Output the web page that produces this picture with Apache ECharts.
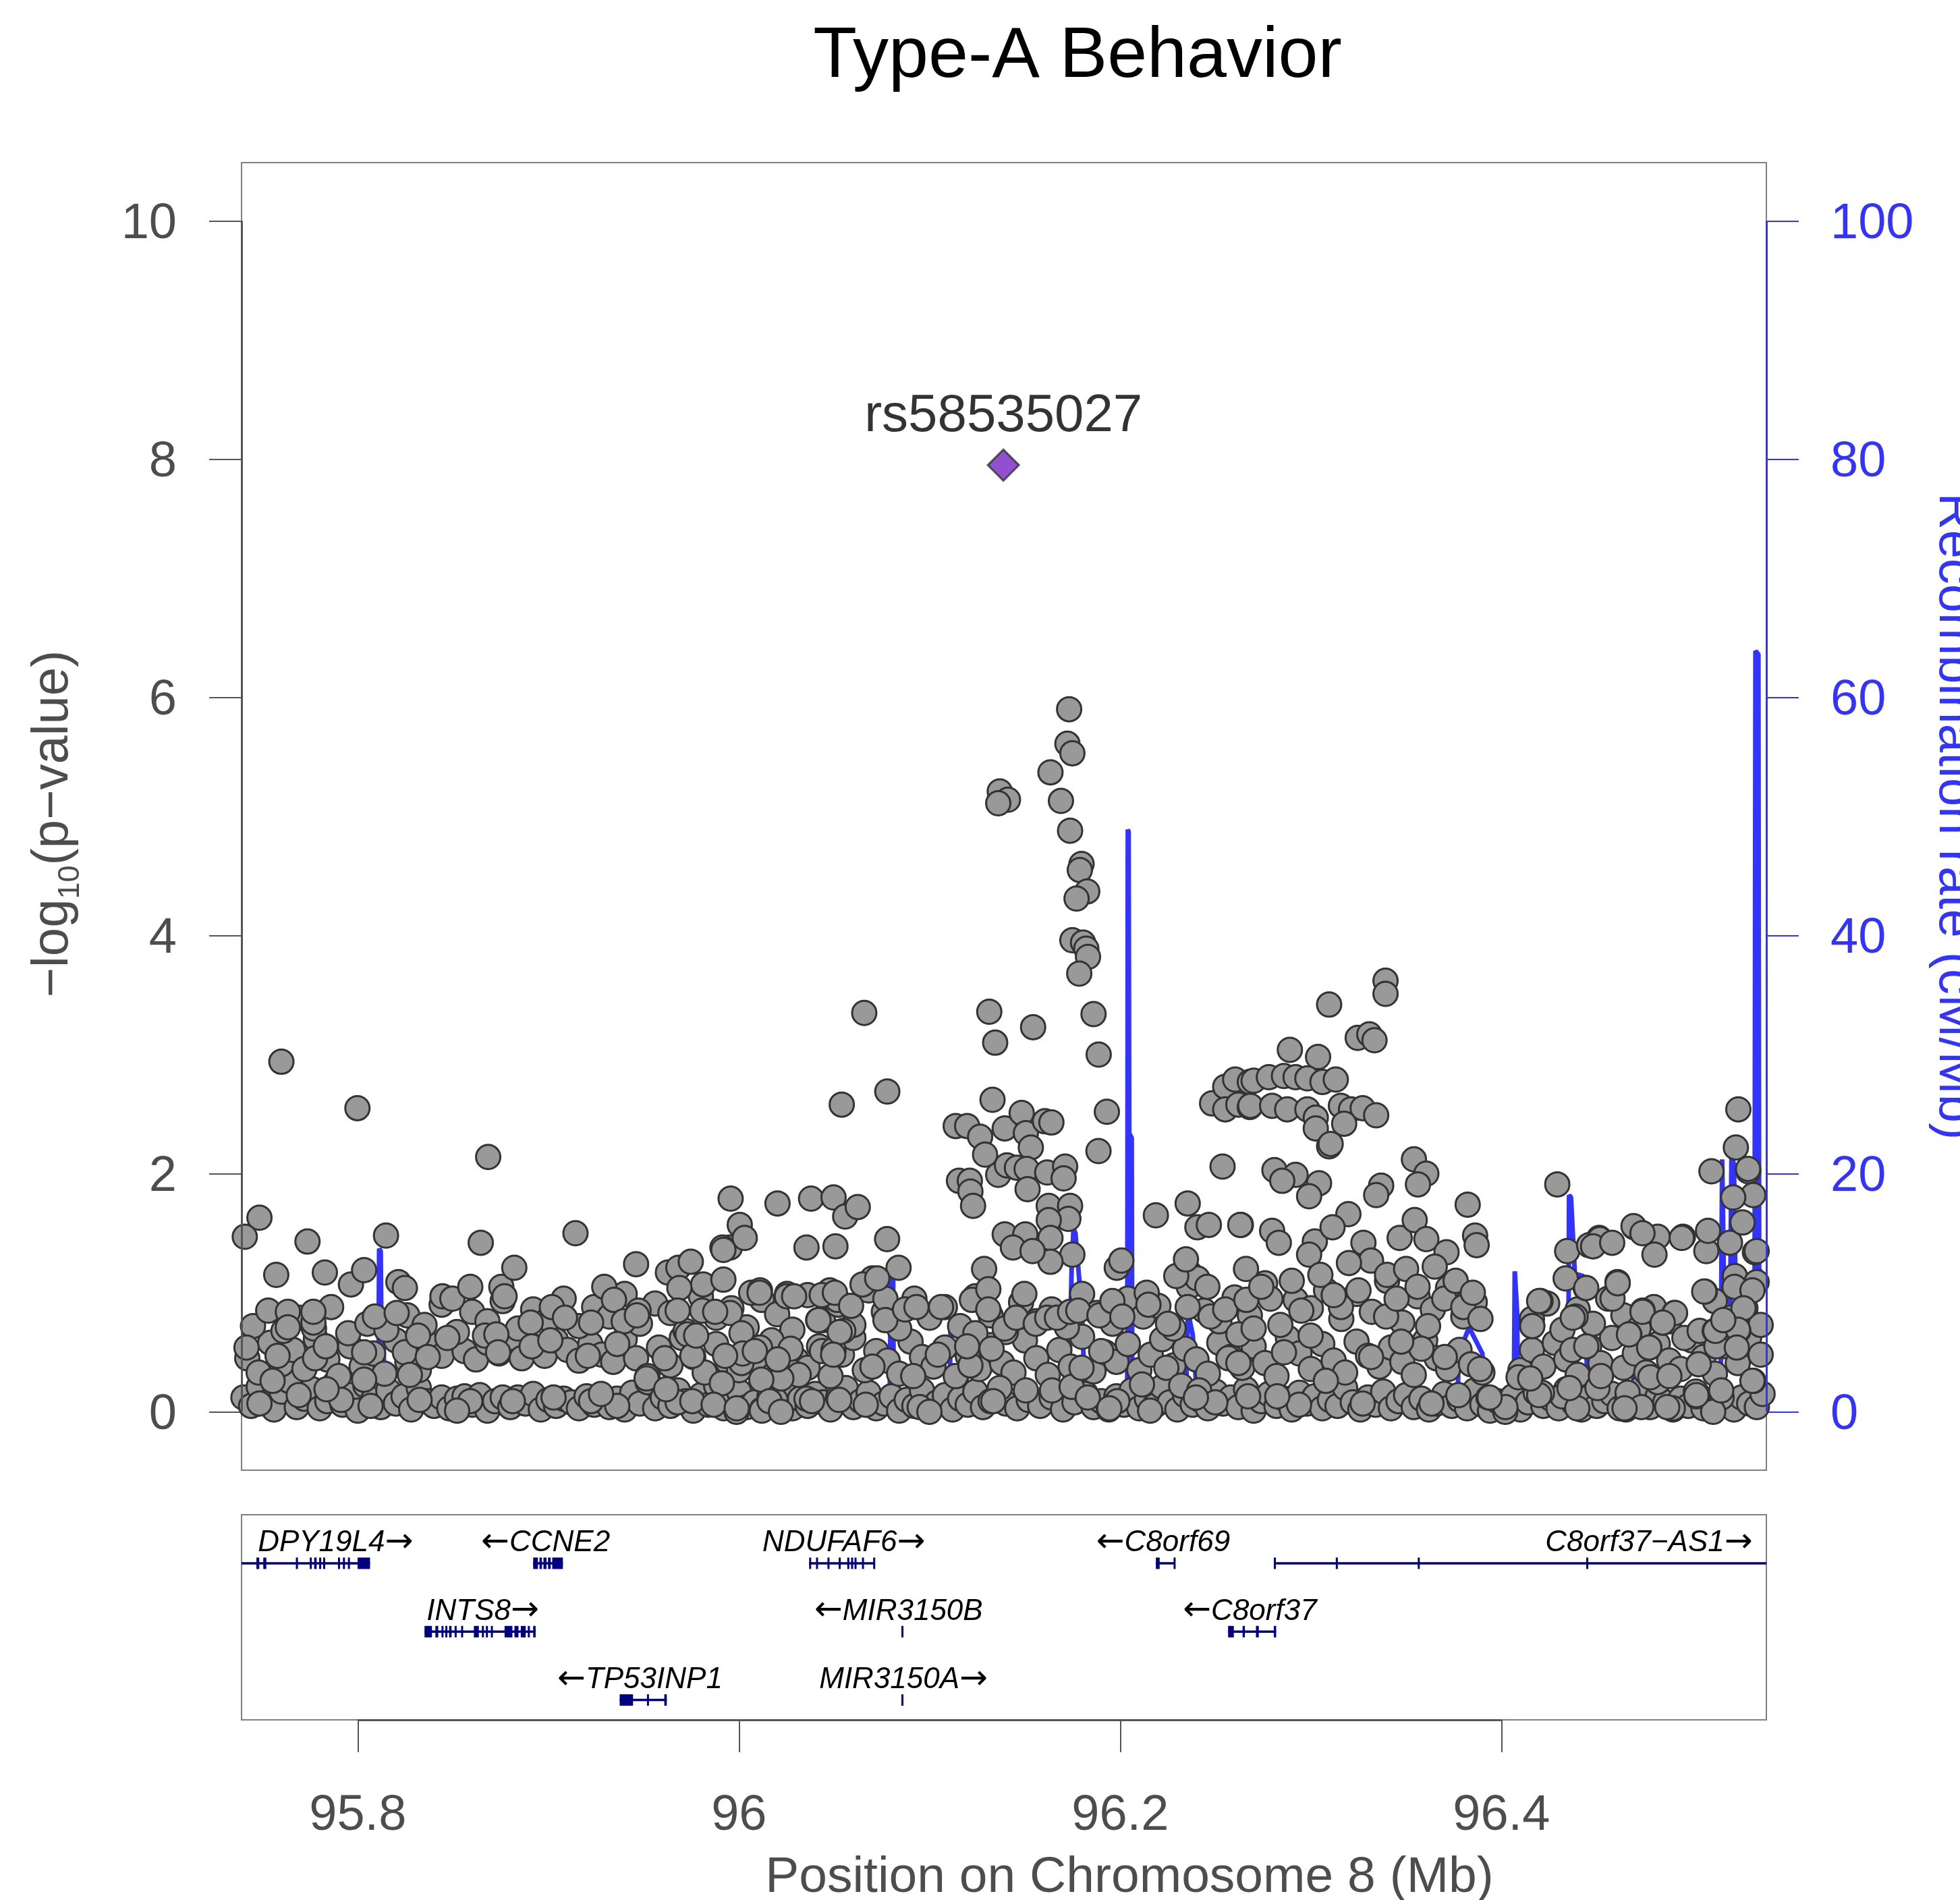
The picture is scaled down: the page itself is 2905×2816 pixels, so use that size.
<!DOCTYPE html>
<html>
<head>
<meta charset="utf-8">
<title>Type-A Behavior</title>
<script src="https://cdn.jsdelivr.net/npm/echarts@6/dist/echarts.min.js"></script>
<style>
html, body { margin: 0; padding: 0; background: #fff; }
#locus { width: 2905px; height: 2816px; }
</style>
</head>
<body>
<div id="locus"></div>
<script>
/* axes */
var xMin = 95.739, xMax = 96.539;
var xTicks = [95.8, 96, 96.2, 96.4];
var pTicks = [0, 2, 4, 6, 8, 10];
var recTicks = [0, 20, 40, 60, 80, 100];

/* lead snp */
var leadName = 'rs58535027';
var leadSnp = [96.1387, 7.95];

/* snps: [position Mb, -log10 p] */
var snpLeft = [
  [95.7599,2.94],[95.7998,2.55],[95.8684,2.14],[95.7484,1.63],[95.7407,1.47],[95.7736,1.43],[95.8148,1.48],[95.8645,1.42],
  [95.9142,1.50],[95.9956,1.79],[96.0004,1.57],[95.9952,1.38],[96.0030,1.46],[95.9913,1.38],[95.7572,1.15],[95.7827,1.17],
  [95.7964,1.07],[95.8033,1.19],[95.8213,1.09],[95.8247,1.04],[95.8444,0.97],[95.8496,0.95],[95.8590,1.05],[95.8753,1.05],
  [95.8821,1.21],[95.8770,0.97],[95.9460,1.24],[95.9627,1.17],[95.9682,1.21],[95.9747,1.26],[95.9812,1.07],[95.9918,1.11],
  [95.9687,1.04],[96.0064,1.00],[95.9953,0.83],[95.7633,0.84],[95.7767,0.75],[95.7633,0.71],[95.7767,0.84],[95.8090,0.80],
  [95.8204,0.83],[95.7416,0.54],[95.7579,0.47],[95.7776,0.45],[95.7832,0.55],[95.7553,0.26],[95.8033,0.50],[95.8247,0.50],
  [95.8316,0.64],[95.8470,0.62],[95.8667,0.64],[95.8727,0.65],[95.8907,0.75],[95.9018,0.88],[95.9087,0.79],[95.9224,0.75],
  [95.9293,1.05],[95.9344,0.94],[95.9395,0.76],[95.9473,0.85],[95.9207,0.47],[95.9361,0.57],[95.9464,0.81],[95.9678,0.85],
  [95.9730,0.65],[95.9807,0.85],[95.9875,0.84],[95.9755,0.47],[96.0013,0.66],[96.0013,0.41],[95.8912,0.55],[95.9010,0.60],
  [95.8736,0.50],[95.8367,0.46],[95.9515,0.28],[95.9610,0.45],[95.9910,0.24],[95.9678,0.08],[95.8590,0.09],[95.8324,0.10],
  [95.7484,0.07],[95.7690,0.14],[95.7913,0.10],[95.8067,0.05],[95.8813,0.09],[95.9027,0.12],[95.9361,0.05],[95.9755,0.09],
  [95.9987,0.00],[95.9867,0.06],[95.9224,0.09],[95.8521,0.01],[95.7836,0.19],[95.8033,0.27],[95.8273,0.31],[95.9276,0.15],
  [95.9618,0.19],[96.0202,1.75],[96.0378,1.79],[96.0496,1.80],[96.0557,1.64],[96.0354,1.38],[96.0506,1.39],[95.9918,1.36],
  [96.0110,1.02],[96.0252,0.99],[96.0476,1.02],[96.0415,0.77],[96.0516,0.94],[96.0547,0.68],[96.0273,0.34],[96.0313,0.31],
  [96.0435,0.51],[96.0496,0.52],[96.0171,0.60],[96.0110,0.54],[96.0019,0.49],[96.0191,0.10],[96.0354,0.11],[95.9988,0.03],
  [96.0120,0.01],[96.0526,0.10],[96.0222,0.28],[95.9927,0.47],[95.9775,0.64]
];

var snpPeak = [
  [96.1732,5.90],[96.1723,5.61],[96.1749,5.53],[96.1634,5.37],[96.1368,5.21],[96.1411,5.14],[96.1360,5.11],[96.1689,5.13],
  [96.1737,4.88],[96.1797,4.60],[96.1788,4.55],[96.1827,4.37],[96.1771,4.31],[96.1749,3.96],[96.1805,3.94],[96.1822,3.89],
  [96.1831,3.82],[96.1785,3.68],[96.0657,3.35],[96.1313,3.36],[96.1860,3.34],[96.1344,3.10],[96.1543,3.23],[96.1887,3.00],
  [96.0539,2.58],[96.0778,2.69],[96.1330,2.62],[96.1930,2.52],[96.1137,2.40],[96.1197,2.40],[96.1265,2.31],[96.1394,2.38],
  [96.1483,2.51],[96.1505,2.34],[96.1605,2.44],[96.1639,2.43],[96.1291,2.16],[96.1531,2.22],[96.1886,2.19],[96.1154,1.94],
  [96.1211,1.94],[96.1214,1.85],[96.1228,1.73],[96.1360,1.99],[96.1406,2.07],[96.1458,2.05],[96.1509,2.04],[96.1514,1.87],
  [96.1617,2.01],[96.1711,2.06],[96.1703,1.96],[96.1625,1.73],[96.1737,1.73],[96.1728,1.62],[96.1625,1.61],[96.1394,1.49],
  [96.1502,1.49],[96.1437,1.38],[96.1634,1.46],[96.1749,1.32],[96.1634,1.26],[96.1540,1.35],[96.1286,1.20],[96.1982,1.21],
  [96.2006,1.27],[96.2187,1.65],[96.2354,1.75],[96.2537,2.06],[96.2482,2.59],[96.2551,2.73],[96.2603,2.79],[96.2680,2.77],
  [96.2551,2.54],[96.2620,2.58],[96.2680,2.56],[96.2405,1.55],[96.2465,1.57],[96.2633,1.57],[96.2362,1.17],[96.2405,1.12],
  [96.2294,1.14],[96.2345,1.28],[96.2457,1.05],
  [96.0108,1.00],[96.0623,1.72],[96.0777,1.45],[96.0837,1.21],[96.0700,1.12],[96.0251,0.97],[96.0289,0.97],[96.0434,0.98],
  [96.0503,1.00],[96.0588,0.89],[96.0768,0.95],[96.0648,1.07],[96.0725,1.12],[96.0417,0.77],[96.0528,0.67],[96.0768,0.77],
  [96.0871,0.86],[96.0931,0.88],[96.1060,0.88],[96.1222,0.94],[96.1308,1.03],[96.1308,0.86],[96.1240,0.66],[96.1325,0.53],
  [96.1394,0.70],[96.1454,0.79],[96.1497,0.99],[96.1557,0.74],[96.1617,0.79],[96.1668,0.79],[96.1737,0.84],[96.1780,0.85],
  [96.1891,0.81],[96.1959,0.93],[96.2011,0.80],[96.2139,1.00],[96.2148,0.90],[96.2251,0.74],[96.2354,0.88],[96.2474,0.80],
  [96.2551,0.86],[96.2620,0.65],[96.2662,0.94],[96.0271,0.53],[96.0203,0.44],[96.0083,0.51],[96.0117,0.27],[96.0494,0.48],
  [96.0700,0.38],[96.0914,0.30],[96.1043,0.48],[96.1137,0.30],[96.1214,0.39],[96.1197,0.55],[96.1368,0.20],[96.1505,0.18],
  [96.1642,0.18],[96.1745,0.21],[96.1797,0.37],[96.1900,0.51],[96.1830,0.12],[96.1985,0.09],[96.2114,0.23],[96.2242,0.37],
  [96.2320,0.22],[96.2414,0.18],[96.2499,0.08],[96.2568,0.45],[96.2620,0.41],[96.2671,0.13],[96.0160,0.09],[96.0220,0.00],
  [96.0383,0.09],[96.0665,0.06],[96.0948,0.04],[96.0999,0.00],[96.1334,0.09],[96.1943,0.03],[96.2157,0.01],[96.2397,0.12]
];

var snpRight = [
  [96.3392,3.62],[96.3392,3.51],[96.3096,3.42],[96.3246,3.14],[96.3307,3.17],[96.3334,3.12],[96.2890,3.04],[96.3038,2.98],
  [96.2700,2.78],[96.2780,2.81],[96.2859,2.82],[96.2920,2.81],[96.2982,2.80],[96.3061,2.77],[96.3131,2.79],[96.2683,2.57],
  [96.2797,2.57],[96.2876,2.54],[96.2982,2.54],[96.3026,2.47],[96.3158,2.57],[96.3211,2.54],[96.3272,2.55],[96.3343,2.49],
  [96.3026,2.38],[96.3175,2.42],[96.3096,2.23],[96.3104,2.25],[96.3541,2.12],[96.3606,2.00],[96.3562,1.91],[96.2809,2.03],
  [96.2920,1.99],[96.3043,1.92],[96.2991,1.81],[96.2850,1.94],[96.3369,1.90],[96.3343,1.82],[96.3823,1.74],[96.3197,1.66],
  [96.2630,1.57],[96.2797,1.52],[96.2832,1.42],[96.3021,1.43],[96.2991,1.32],[96.3114,1.55],[96.3276,1.42],[96.3316,1.27],
  [96.3466,1.46],[96.3545,1.61],[96.3606,1.45],[96.3712,1.34],[96.3862,1.48],[96.3870,1.40],[96.4293,1.91],[96.4345,1.35],
  [96.4513,1.46],[96.4460,1.40],[96.4697,1.55],[96.4820,1.47],[96.4803,1.32],[96.4952,1.47],[96.5075,1.35],[96.5084,1.52],
  [96.5199,1.42],[96.5265,1.59],[96.5243,2.54],[96.5230,2.22],[96.5102,2.02],[96.5295,2.02],[96.5321,1.82],[96.5216,1.80],
  [96.5330,1.34],[96.5067,1.01],[96.4908,0.83],[96.4847,0.75],[96.4741,0.85],[96.4609,1.09],[96.4671,0.65],[96.4776,0.54],
  [96.4583,0.95],[96.4442,1.04],[96.4389,0.80],[96.4337,1.12],[96.4205,0.93],[96.4161,0.72],[96.4372,0.52],[96.4504,0.20],
  [96.4662,0.16],[96.4819,0.25],[96.5023,0.13],[96.5155,0.12],[96.5119,0.68],[96.5243,0.68],[96.5128,0.55],[96.5322,0.26],
  [96.5225,1.14],[96.5339,1.09],[96.5111,0.00],[96.4899,0.03],[96.4653,0.02],[96.4319,0.13],[96.4213,0.16],[96.4090,0.29],
  [96.4020,0.00],[96.3932,0.12],[96.3888,0.36],[96.3774,0.14],[96.3633,0.07],[96.3703,0.46],[96.3615,0.72],[96.3580,0.53],
  [96.3474,0.59],[96.3395,0.80],[96.3316,0.46],[96.3272,0.07],[96.3158,0.88],[96.3079,0.26],[96.2999,0.64],[96.2859,0.50],
  [96.2788,0.95],[96.2700,0.70],[96.2938,0.06],[96.2824,0.13],
  [96.2660,1.20],[96.2740,1.05],[96.2900,1.10],[96.2950,0.85],[96.3050,1.15],[96.3120,0.98],[96.3200,1.25],[96.3250,1.02],
  [96.3400,1.15],[96.3450,0.95],[96.3500,1.20],[96.3560,1.05],[96.3650,1.22],[96.3700,0.95],[96.3760,1.10],[96.3800,0.88],
  [96.3850,1.00],[96.3890,0.78],
  [96.5294,2.04],[96.4516,1.45],[96.4481,1.39],[96.4581,1.42],[96.4693,1.56],[96.4740,1.50],[96.4946,1.46],[96.5339,1.35],
  [96.4445,1.04],[96.4610,1.08],[96.4198,0.93],[96.4162,0.72],[96.4374,0.79],[96.4740,0.84],[96.4911,0.83],[96.4846,0.75],
  [96.4669,0.65],[96.4775,0.54],[96.5064,1.01],[96.5223,1.05],[96.5317,1.02],[96.5270,0.87],[96.5123,0.68],[96.5241,0.69],
  [96.5235,0.54],[96.5317,0.26],[96.5035,0.40],[96.5153,0.18],[96.5023,0.14],[96.4870,0.04],[96.4734,0.04],[96.4646,0.03],
  [96.4398,0.03],[96.4198,0.14],[96.4021,0.04],[96.3938,0.12],[96.4522,0.30],[96.4781,0.29],[96.4881,0.30],[96.4357,0.20],
  [96.4151,0.28],[96.4445,0.55],[96.5164,0.77]
];

/* the crowded layers near zero */
var snpFloor = [
  [95.740,0.12],[95.744,0.05],[95.748,0.21],[95.752,0.08],[95.756,0.02],[95.760,0.17],[95.764,0.26],[95.768,0.04],[95.772,0.11],
  [95.776,0.19],[95.780,0.03],[95.784,0.09],[95.788,0.24],[95.792,0.06],[95.796,0.14],[95.800,0.01],[95.804,0.22],[95.808,0.10],
  [95.812,0.04],[95.816,0.18],[95.820,0.07],[95.824,0.13],[95.828,0.02],[95.832,0.20],[95.836,0.09],[95.840,0.05],[95.844,0.12],
  [95.848,0.03],[95.852,0.11],[95.856,0.13],[95.860,0.06],[95.864,0.14],[95.868,0.01],[95.872,0.09],[95.876,0.12],[95.880,0.04],
  [95.884,0.12],[95.888,0.07],[95.892,0.15],[95.896,0.02],[95.900,0.10],[95.904,0.05],[95.908,0.11],[95.912,0.08],[95.916,0.03],
  [95.920,0.13],[95.924,0.06],[95.928,0.10],[95.932,0.04],[95.936,0.11],[95.940,0.02],[95.944,0.16],[95.948,0.07],[95.952,0.25],
  [95.956,0.03],[95.960,0.12],[95.964,0.05],[95.968,0.18],[95.972,0.09],[95.976,0.01],[95.980,0.14],[95.984,0.06],[95.988,0.22],
  [95.992,0.03],[95.996,0.10],[96.000,0.17],[96.004,0.04],[96.008,0.08],[96.012,0.02],[96.016,0.13],[96.020,0.06],[96.024,0.19],
  [96.028,0.03],[96.032,0.11],[96.036,0.05],[96.040,0.15],[96.044,0.08],[96.048,0.02],[96.052,0.12],[96.056,0.20],[96.060,0.04],
  [96.064,0.09],[96.068,0.16],[96.072,0.03],[96.076,0.07],[96.080,0.13],[96.084,0.01],[96.088,0.10],[96.092,0.05],[96.096,0.18],
  [96.100,0.03],[96.104,0.08],[96.108,0.14],[96.112,0.02],[96.116,0.11],[96.120,0.06],[96.124,0.17],[96.128,0.04],[96.132,0.09],
  [96.136,0.13],[96.140,0.07],[96.146,0.03],[96.152,0.10],[96.158,0.05],[96.164,0.12],[96.170,0.02],[96.176,0.08],[96.182,0.15],
  [96.186,0.04],[96.190,0.09],[96.194,0.02],[96.198,0.13],[96.202,0.06],[96.206,0.18],[96.210,0.03],[96.214,0.11],[96.218,0.05],
  [96.222,0.21],[96.226,0.08],[96.230,0.02],[96.234,0.14],[96.238,0.06],[96.242,0.10],[96.246,0.03],[96.250,0.17],[96.254,0.07],
  [96.258,0.12],[96.262,0.04],[96.266,0.19],[96.270,0.01],[96.274,0.09],[96.278,0.15],[96.282,0.05],[96.286,0.11],[96.290,0.02],
  [96.294,0.16],[96.298,0.07],[96.302,0.13],[96.306,0.03],[96.310,0.10],[96.314,0.05],[96.318,0.20],[96.322,0.08],[96.326,0.02],
  [96.330,0.12],[96.334,0.06],[96.338,0.17],[96.342,0.03],[96.346,0.09],[96.350,0.14],[96.354,0.04],[96.358,0.11],[96.362,0.02],
  [96.366,0.07],[96.370,0.15],[96.374,0.05],[96.378,0.10],[96.382,0.03],[96.386,0.18],[96.390,0.06],[96.394,0.01],[96.398,0.09],
  [96.402,0.04],[96.406,0.13],[96.410,0.02],[96.414,0.08],[96.418,0.16],[96.422,0.05],[96.426,0.11],[96.430,0.03],[96.434,0.19],
  [96.438,0.07],[96.442,0.02],[96.446,0.12],[96.450,0.05],[96.454,0.09],[96.458,0.15],[96.462,0.03],[96.466,0.10],[96.470,0.06],
  [96.474,0.21],[96.478,0.04],[96.482,0.13],[96.486,0.08],[96.490,0.02],[96.494,0.11],[96.498,0.05],[96.502,0.17],[96.506,0.03],
  [96.510,0.09],[96.514,0.14],[96.518,0.06],[96.522,0.02],[96.526,0.12],[96.530,0.07],[96.534,0.04],[96.537,0.15]
];

var snpBand = [
  [95.742,0.45],[95.748,0.33],[95.754,0.58],[95.760,0.40],[95.766,0.52],[95.772,0.36],[95.778,0.61],[95.784,0.44],[95.790,0.30],
  [95.796,0.55],[95.802,0.38],[95.808,0.49],[95.814,0.32],[95.820,0.60],[95.826,0.42],[95.832,0.35],[95.838,0.56],[95.844,0.47],
  [95.850,0.63],[95.856,0.51],[95.862,0.44],[95.868,0.58],[95.874,0.49],[95.880,0.62],[95.886,0.45],[95.892,0.55],[95.898,0.47],
  [95.904,0.60],[95.910,0.52],[95.916,0.43],[95.922,0.57],[95.928,0.48],[95.934,0.42],[95.940,0.61],[95.946,0.45],[95.952,0.30],
  [95.958,0.54],[95.964,0.39],[95.970,0.62],[95.976,0.46],[95.982,0.33],[95.988,0.57],[95.994,0.42],[96.000,0.35],[96.006,0.53],
  [96.012,0.40],[96.018,0.31],[96.024,0.58],[96.030,0.44],[96.036,0.37],[96.042,0.55],[96.048,0.30],[96.054,0.48],[96.060,0.62],
  [96.066,0.35],[96.072,0.51],[96.078,0.43],[96.084,0.32],[96.090,0.59],[96.096,0.46],[96.102,0.38],[96.108,0.54],[96.114,0.30],
  [96.120,0.47],[96.126,0.36],[96.132,0.56],[96.138,0.41],[96.144,0.33],[96.150,0.60],[96.156,0.45],[96.162,0.31],[96.168,0.52],
  [96.174,0.38],[96.180,0.63],[96.186,0.34],[96.192,0.50],[96.198,0.42],[96.204,0.57],[96.210,0.35],[96.216,0.48],[96.222,0.61],
  [96.228,0.39],[96.234,0.53],[96.240,0.44],[96.246,0.32],[96.252,0.58],[96.258,0.46],[96.264,0.37],[96.270,0.55],[96.276,0.41],
  [96.282,0.30],[96.288,0.62],[96.294,0.49],[96.300,0.36],[96.306,0.57],[96.312,0.43],[96.318,0.33],[96.324,0.59],[96.330,0.47],
  [96.336,0.38],[96.342,0.54],[96.348,0.42],[96.354,0.31],[96.360,0.60],[96.366,0.45],[96.372,0.36],[96.378,0.52],[96.384,0.40],
  [96.390,0.33],[96.410,0.35],[96.416,0.52],[96.422,0.38],[96.428,0.58],[96.434,0.44],[96.440,0.31],[96.446,0.55],[96.452,0.41],
  [96.458,0.62],[96.464,0.37],[96.470,0.49],[96.476,0.33],[96.482,0.57],[96.488,0.43],[96.494,0.36],[96.500,0.60],[96.506,0.46],
  [96.512,0.32],[96.518,0.55],[96.524,0.41],[96.530,0.63],[96.536,0.48],
  [95.745,0.72],[95.753,0.85],[95.761,0.68],[95.769,0.79],[95.777,0.70],[95.786,0.88],[95.795,0.66],[95.805,0.74],[95.815,0.69],
  [95.826,0.81],[95.835,0.73],[95.844,0.90],[95.852,0.67],[95.860,0.84],[95.868,0.76],[95.876,0.93],[95.884,0.70],[95.892,0.86],
  [95.900,0.78],[95.908,0.95],[95.916,0.72],[95.924,0.88],[95.932,0.80],[95.940,0.99],[95.948,0.74],[95.956,0.91],[95.964,0.83],
  [95.972,0.68],[95.980,0.97],[95.988,0.79],[95.996,0.87],[96.004,0.71],[96.012,0.94],[96.020,0.82],[96.028,0.69],[96.036,0.98],
  [96.044,0.77],[96.052,0.90],[96.060,0.73],[96.068,1.02],[96.076,0.84],[96.084,0.70],[96.092,0.95],[96.100,0.79],[96.108,0.88],
  [96.116,0.72],[96.124,0.97],[96.132,0.81],[96.140,0.67],[96.148,0.92],[96.156,0.76],[96.164,0.86],[96.172,0.71],[96.180,0.99],
  [96.188,0.83],[96.196,0.74],[96.204,0.95],[96.212,0.80],[96.220,0.89],[96.228,0.70],[96.236,1.05],[96.244,0.85],[96.252,0.76],
  [96.260,0.96],[96.268,0.81],[96.276,1.08],[96.284,0.73],[96.292,0.94],[96.300,0.87],[96.308,1.02],[96.316,0.78],[96.324,0.99],
  [96.332,0.84],[96.340,1.10],[96.348,0.75],[96.356,0.97],[96.364,0.86],[96.372,1.04],[96.380,0.80],[96.386,0.92],[96.416,0.78],
  [96.424,0.91],[96.432,0.69],[96.440,0.86],[96.448,0.74],[96.456,0.95],[96.464,0.81],[96.472,0.70],[96.480,0.88],[96.488,0.76],
  [96.496,0.62],[96.504,0.68],[96.512,0.93],[96.520,0.79],[96.528,0.87],[96.536,0.73]
];

/* recombination rate: [position Mb, cM/Mb] */
var recomb = [
  [95.739,0.8],[95.750,1.2],[95.762,0.6],[95.775,1.5],[95.790,0.9],[95.805,1.1],[95.8108,1.4],[95.8112,13.7],[95.8120,13.5],
  [95.8124,6.3],[95.8135,6.0],[95.8140,0.8],[95.830,0.5],[95.850,0.7],[95.870,0.4],[95.890,0.6],[95.910,0.3],[95.930,0.5],
  [95.950,0.4],[95.970,0.3],[95.990,0.2],[96.010,0.2],[96.030,0.15],[96.046,0.2],[96.0475,1.6],[96.0490,1.7],[96.0495,0.2],
  [96.079,0.2],[96.0798,12.8],[96.0808,12.6],[96.0812,0.3],[96.1105,0.3],[96.1110,7.5],[96.1178,7.2],[96.1185,0.2],[96.140,0.15],
  [96.173,0.2],[96.1745,12.0],[96.1755,15.4],[96.1765,15.0],[96.1800,8.2],[96.1815,1.0],[96.190,0.6],[96.2037,0.8],[96.2040,48.9],
  [96.2044,48.7],[96.2047,23.4],[96.2060,23.0],[96.2063,1.0],[96.215,0.5],[96.228,0.8],[96.2345,1.2],[96.2355,8.4],[96.2380,6.5],
  [96.2400,2.0],[96.2420,0.4],[96.260,0.6],[96.280,0.9],[96.300,0.5],[96.316,0.4],[96.330,0.4],[96.3350,1.0],[96.3420,1.0],
  [96.3440,1.3],[96.3460,0.6],[96.3620,0.6],[96.3680,0.3],[96.3770,0.3],[96.3775,4.8],[96.3830,7.1],[96.3900,4.9],[96.3915,0.3],
  [96.4065,0.3],[96.4070,11.8],[96.4082,8.4],[96.4088,0.4],[96.4200,0.3],[96.4350,0.4],[96.4355,18.2],[96.4365,18.0],[96.4385,11.6],
  [96.4430,11.4],[96.4445,5.0],[96.4460,0.5],[96.4600,0.4],[96.4690,0.4],[96.4695,5.3],[96.4710,5.0],[96.4715,0.4],[96.4900,0.3],
  [96.5150,0.4],[96.5158,21.2],[96.5170,8.0],[96.5200,8.5],[96.5207,21.4],[96.5220,20.8],[96.5232,5.0],[96.5328,5.0],[96.5333,63.9],
  [96.5348,63.6],[96.5352,12.0],[96.539,11.0]
];

/* genes */
var geneNames  = ['DPY19L4', 'CCNE2', 'NDUFAF6', 'C8orf69', 'C8orf37\u2212AS1', 'INTS8', 'MIR3150B', 'C8orf37', 'TP53INP1', 'MIR3150A'];
var geneStart  = [95.705, 95.8920, 96.0368, 96.2187, 96.2806, 95.8350, 96.0852, 96.2566, 95.9374, 96.0852];
var geneEnd    = [95.8064, 95.9076, 96.0710, 96.2288, 96.5600, 95.8933, 96.0854, 96.2818, 95.9621, 96.0854];
var geneRow    = [1, 1, 1, 1, 1, 2, 2, 2, 3, 3];
var geneStrand = ['+', '-', '+', '-', '+', '+', '-', '-', '-', '+'];
var geneLabelX = [95.7883, 95.8985, 96.0550, 96.2225, 96.4774, 95.8656, 96.0837, 96.2680, 95.9480, 96.0863];
var geneExons = [
  [[95.7468,95.7483],[95.7504,95.7520],[95.7675,95.7686],[95.7748,95.7758],[95.7771,95.7784],[95.7797,95.7808],[95.7818,95.7826],
   [95.7896,95.7906],[95.7922,95.7932],[95.7948,95.7958],[95.7999,95.8064]],
  [[95.8920,95.8945],[95.8953,95.8966],[95.8974,95.8990],[95.8998,95.9012],[95.9020,95.9076]],
  [[96.0368,96.0373],[96.0404,96.0409],[96.0464,96.0470],[96.0523,96.0528],[96.0568,96.0574],[96.0588,96.0594],[96.0606,96.0611],
   [96.0645,96.0650],[96.0704,96.0710]],
  [[96.2187,96.2207],[96.2280,96.2288]],
  [[96.2806,96.2811],[96.3131,96.3136],[96.3561,96.3566],[96.4445,96.4450]],
  [[95.8350,95.8389],[95.8407,95.8422],[95.8439,95.8444],[95.8459,95.8464],[95.8479,95.8492],[95.8508,95.8513],[95.8542,95.8547],
   [95.8609,95.8635],[95.8651,95.8656],[95.8672,95.8677],[95.8698,95.8703],[95.8770,95.8811],[95.8822,95.8843],[95.8855,95.8881],
   [95.8892,95.8897],[95.8920,95.8933]],
  [[96.0852,96.0854]],
  [[96.2566,96.2596],[96.2642,96.2654],[96.2712,96.2727],[96.2806,96.2818]],
  [[95.9374,95.9444],[95.9517,95.9527],[95.9608,95.9621]],
  [[96.0852,96.0854]]
];

var FONT = '"Liberation Sans", Arial, sans-serif';
var GREY = '#4d4d4d';
var BLUE = '#3333ff';

// gene name plus a strand arrow, the arrow set in an upright font so it reads like the R one
function geneLabel(i) {
  return geneStrand[i] === '+'
    ? '{n|' + geneNames[i] + '}{r|\u2192}'
    : '{r|\u2190}{n|' + geneNames[i] + '}';
}

function renderGene(params, api) {
  var i = params.dataIndex;
  var cs = params.coordSys;
  var a = api.coord([api.value(0), api.value(2)]);
  var b = api.coord([api.value(1), api.value(2)]);
  var y = a[1];
  var x0 = Math.max(a[0], cs.x), x1 = Math.min(b[0], cs.x + cs.width);
  var kids = [{
    type: 'line',
    shape: { x1: x0, y1: y, x2: x1, y2: y },
    style: { stroke: '#000080', lineWidth: 3.5 }
  }];
  geneExons[i].forEach(function (ex) {
    var ea = api.coord([ex[0], api.value(2)])[0];
    var eb = api.coord([ex[1], api.value(2)])[0];
    var w = Math.max(eb - ea, 3);
    kids.push({
      type: 'rect',
      shape: { x: ea, y: y - 8.5, width: w, height: 17 },
      style: { fill: '#000080' }
    });
  });
  kids.push({
    type: 'text',
    x: api.coord([geneLabelX[i], api.value(2)])[0],
    y: y - 5,
    style: {
      text: geneLabel(i),
      fill: '#000',
      textAlign: 'center', align: 'center',
      textVerticalAlign: 'bottom', verticalAlign: 'bottom',
      rich: {
        n: { fontSize: 44, fontStyle: 'italic', fontFamily: FONT, lineHeight: 50, verticalAlign: 'middle', fill: '#000', color: '#000' },
        r: { fontSize: 50, fontFamily: '"DejaVu Sans"', lineHeight: 50, verticalAlign: 'middle', fill: '#000', color: '#000' }
      }
    }
  });
  return { type: 'group', children: kids };
}

// tick labels sit a few pixels lower than ECharts centres them
function tickLabel(colour) {
  return {
    margin: 0, fontSize: 74, color: colour, fontFamily: FONT,
    formatter: '{v|{value}}',
    rich: { v: { fontSize: 74, fontFamily: FONT, color: colour, padding: [11, 0, 0, 0] } }
  };
}

// R draws each axis line only between its first and last tick
function axisSpan(from, to, colour) {
  return {
    silent: true, animation: false, symbol: ['none', 'none'],
    label: { show: false },
    lineStyle: { color: colour, width: 3, type: 'solid' },
    emphasis: { disabled: true },
    data: [[{ coord: from }, { coord: to }]]
  };
}

var chart = echarts.init(document.getElementById('locus'));

var leftLabel = tickLabel(GREY);
leftLabel.customValues = pTicks;
leftLabel.margin = 96;
var rightLabel = tickLabel(BLUE);
rightLabel.customValues = recTicks;
rightLabel.margin = 95;

var option = {
  animation: false,
  backgroundColor: '#fff',
  textStyle: { fontFamily: FONT },
  grid: [
    { left: 358, right: 287, top: 241, bottom: 637, show: true, borderColor: '#808080', borderWidth: 2 },
    { left: 358, right: 287, top: 2245, bottom: 267, show: true, borderColor: '#808080', borderWidth: 2 }
  ],
  xAxis: [
    { gridIndex: 0, type: 'value', min: xMin, max: xMax, show: false },
    {
      gridIndex: 1, type: 'value', min: xMin, max: xMax, position: 'bottom',
      axisLine: { show: true, lineStyle: { color: '#808080', width: 2 } },
      axisTick: { show: true, length: 48, customValues: xTicks, lineStyle: { color: '#555', width: 2 } },
      axisLabel: { customValues: xTicks, margin: 106, fontSize: 74, color: GREY, fontFamily: FONT },
      splitLine: { show: false }
    }
  ],
  yAxis: [
    {
      gridIndex: 0, type: 'value', position: 'left', min: -0.49, max: 10.49,
      axisLine: { show: false },
      axisTick: { show: true, length: 48, customValues: pTicks, lineStyle: { color: '#555', width: 2 } },
      axisLabel: leftLabel,
      splitLine: { show: false }
    },
    {
      gridIndex: 0, type: 'value', position: 'right', min: -4.9, max: 104.9,
      axisLine: { show: false },
      axisTick: { show: true, length: 48, customValues: recTicks, lineStyle: { color: BLUE, width: 2 } },
      axisLabel: rightLabel,
      splitLine: { show: false }
    },
    { gridIndex: 1, type: 'value', min: 0.29, max: 3.29, inverse: true, show: false }
  ],
  graphic: [
    {
      type: 'text', x: 1597, y: 85,
      style: { text: 'Type-A Behavior', font: '106px ' + FONT, fill: '#000',
               textAlign: 'center', align: 'center', textVerticalAlign: 'middle', verticalAlign: 'middle' }
    },
    {
      type: 'text', x: 1674, y: 2783,
      style: { text: 'Position on Chromosome 8 (Mb)', font: '75px ' + FONT, fill: GREY,
               textAlign: 'center', align: 'center', textVerticalAlign: 'middle', verticalAlign: 'middle' }
    },
    {
      type: 'text', x: 79, y: 1221, rotation: Math.PI / 2,
      style: {
        text: '{a|\u2212log}{s|10}{a|(p\u2212value)}',
        fill: GREY,
        textAlign: 'center', align: 'center', textVerticalAlign: 'middle', verticalAlign: 'middle',
        rich: {
          a: { fontSize: 76, lineHeight: 76, fontFamily: FONT, fill: GREY, color: GREY, verticalAlign: 'top' },
          s: { fontSize: 45, lineHeight: 45, fontFamily: FONT, fill: GREY, color: GREY, verticalAlign: 'top', padding: [41, 0, 0, 0] }
        }
      }
    },
    {
      type: 'text', x: 2896, y: 1210, rotation: -Math.PI / 2,
      style: { text: 'Recombination rate (cM/Mb)', font: '76px ' + FONT, fill: BLUE,
               textAlign: 'center', align: 'center', textVerticalAlign: 'middle', verticalAlign: 'middle' }
    }
  ],
  series: [
    {
      name: 'recomb', type: 'line', xAxisIndex: 0, yAxisIndex: 1,
      data: recomb, showSymbol: false, symbol: 'none', silent: true, z: 1,
      lineStyle: { color: BLUE, width: 7 },
      markLine: axisSpan([xMax, recTicks[0]], [xMax, recTicks[recTicks.length - 1]], BLUE)
    },
    {
      name: 'snps', type: 'scatter', xAxisIndex: 0, yAxisIndex: 0, z: 2,
      data: snpFloor.concat(snpBand, snpLeft, snpPeak, snpRight),
      symbol: 'circle', symbolSize: 36,
      itemStyle: { color: '#999999', borderColor: '#333333', borderWidth: 3, opacity: 1 },
      markLine: axisSpan([xMin, pTicks[0]], [xMin, pTicks[pTicks.length - 1]], '#555')
    },
    {
      name: 'lead', type: 'scatter', xAxisIndex: 0, yAxisIndex: 0, z: 3,
      data: [leadSnp], symbol: 'diamond', symbolSize: 46,
      itemStyle: { color: '#7424c4', borderColor: '#333333', borderWidth: 3 },
      label: { show: true, position: 'top', distance: 8, formatter: leadName,
               fontSize: 78, color: '#000', fontFamily: FONT }
    },
    {
      name: 'genes', type: 'custom', xAxisIndex: 1, yAxisIndex: 2, z: 2,
      data: geneNames.map(function (n, i) { return [geneStart[i], geneEnd[i], geneRow[i]]; }),
      encode: { x: [0, 1], y: 2 },
      renderItem: renderGene,
      markLine: axisSpan([xTicks[0], 3.29], [xTicks[xTicks.length - 1], 3.29], '#555')
    }
  ]
};

chart.setOption(option);
window.addEventListener('resize', function () { chart.resize(); });
</script>
</body>
</html>
